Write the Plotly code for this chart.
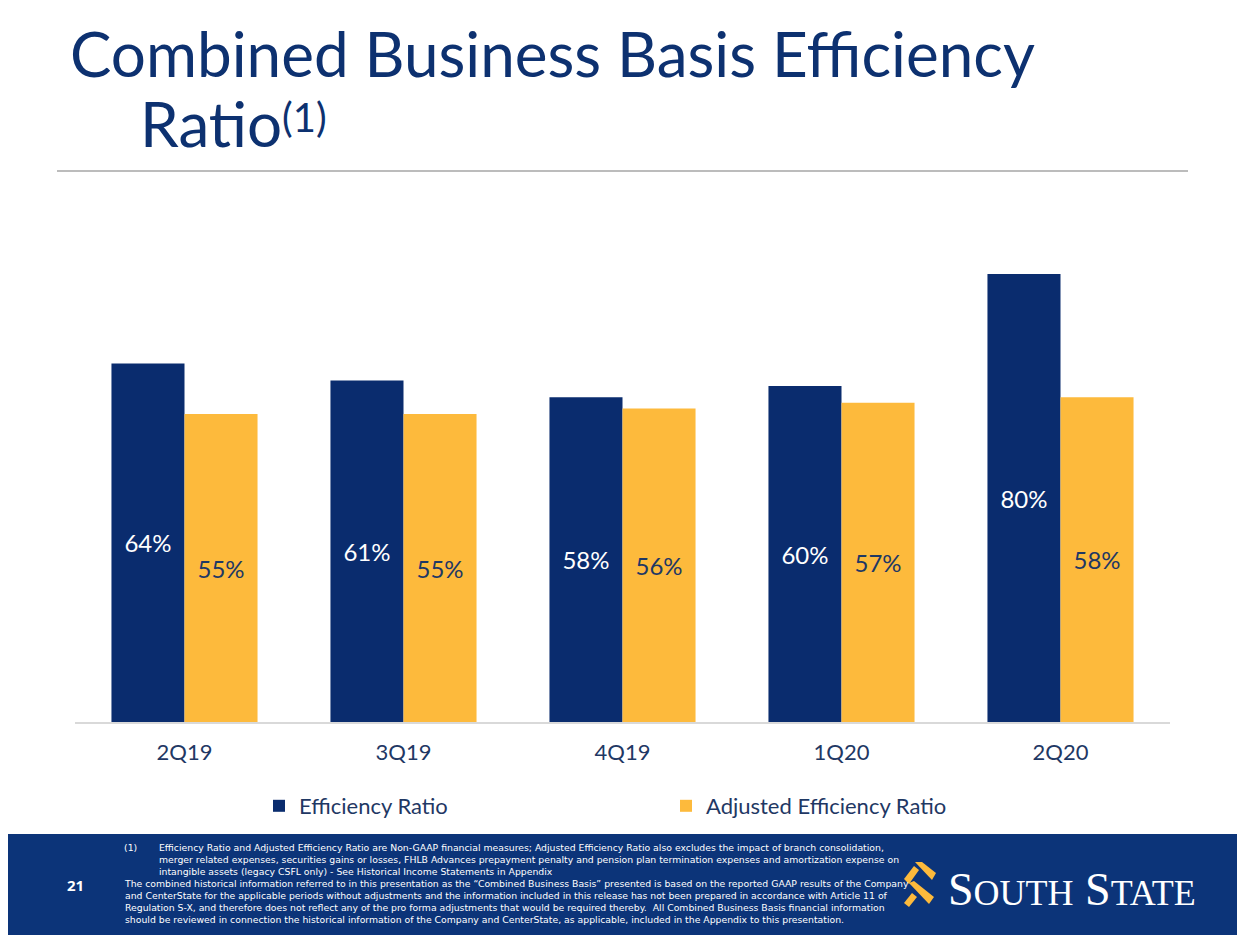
import plotly.graph_objects as go

# ---- data ----
quarters = ["2Q19", "3Q19", "4Q19", "1Q20", "2Q20"]
efficiency_ratio = [64, 61, 58, 60, 80]
adjusted_efficiency_ratio = [55, 55, 56, 57, 58]
series_names = ["Efficiency Ratio", "Adjusted Efficiency Ratio"]

footnote_1 = [
    "Efficiency Ratio and Adjusted Efficiency Ratio are Non-GAAP financial measures; Adjusted Efficiency Ratio also excludes the impact of branch consolidation,",
    "merger related expenses, securities gains or losses, FHLB Advances prepayment penalty and pension plan termination expenses and amortization expense on",
    "intangible assets (legacy CSFL only) - See Historical Income Statements in Appendix",
]
footnote_2 = [
    "The combined historical information referred to in this presentation as the \u201cCombined Business Basis\u201d presented is based on the reported GAAP results of the Company",
    "and CenterState for the applicable periods without adjustments and the information included in this release has not been prepared in accordance with Article 11 of",
    "Regulation S-X, and therefore does not reflect any of the pro forma adjustments that would be required thereby.  All Combined Business Basis financial information",
    "should be reviewed in connection the historical information of the Company and CenterState, as applicable, included in the Appendix to this presentation.",
]

# ---- styling ----
W, H = 1245, 935
OX, OY = 8, 8            # page body margin offset
L, R, T, B = 75, 1170, 246, 722   # plot area in screen pixels
PW, PH = R - L, B - T
NAVY = "#0a2c6e"
YELLOW = "#fdba3c"
TITLE = "#0d3170"
TEXT = "#1f3864"
BAND = "#0c3479"
FONT = "Lato"
NOTE_FONT = "DejaVu Sans"
NOTE_SIZE = 9.3


def xp(x):
    return (x - L) / PW


def yp(y):
    return (B - y) / PH


fig = go.Figure()
fig.add_trace(go.Bar(
    x=quarters, y=efficiency_ratio, name=series_names[0],
    marker=dict(color=NAVY, line=dict(width=0)),
    texttemplate="%{y}%", textposition="inside", insidetextanchor="middle",
    textangle=0, textfont=dict(family=FONT, size=24, color="white"),
    hoverinfo="skip",
))
fig.add_trace(go.Bar(
    x=quarters, y=adjusted_efficiency_ratio, name=series_names[1],
    marker=dict(color=YELLOW, line=dict(width=0)),
    texttemplate="%{y}%", textposition="inside", insidetextanchor="middle",
    textangle=0, textfont=dict(family=FONT, size=24, color=TEXT),
    hoverinfo="skip",
))

shapes = [
    dict(type="line", xref="paper", yref="paper", x0=xp(57), x1=xp(1188), y0=yp(171), y1=yp(171),
         line=dict(color="#a6a6a6", width=1.5)),
    dict(type="rect", xref="paper", yref="paper", x0=xp(0), x1=xp(W + OX), y0=yp(H + OY), y1=yp(834),
         fillcolor=BAND, line=dict(width=0), layer="below"),
]

icon_polys = [
    [(915, 862), (922, 862), (936, 873), (932, 880)],
    [(904, 879), (914, 866), (919, 870), (909, 884)],
    [(909, 883), (914, 881), (934, 897), (929, 904)],
    [(904, 903), (912, 893), (917, 897), (909, 907)],
]
for poly in icon_polys:
    path = "M " + " L ".join(f"{xp(x):.5f},{yp(y):.5f}" for x, y in poly) + " Z"
    shapes.append(dict(type="path", xref="paper", yref="paper", path=path,
                       fillcolor=YELLOW, line=dict(width=0)))

annotations = [
    dict(text="Combined Business Basis Efficiency", x=xp(68), y=yp(53), xanchor="left", yanchor="middle",
         font=dict(family=FONT, size=62, color=TITLE)),
    dict(text="Ratio", x=xp(138), y=yp(123), xanchor="left", yanchor="middle",
         font=dict(family=FONT, size=62, color=TITLE)),
    dict(text="(1)", x=xp(280), y=yp(117), xanchor="left", yanchor="middle",
         font=dict(family=FONT, size=40, color=TITLE)),
    dict(text="(1)", x=xp(122), y=yp(847), xanchor="left", yanchor="middle",
         font=dict(family=NOTE_FONT, size=NOTE_SIZE, color="white")),
    dict(text="<br>".join(footnote_1), x=xp(157), y=yp(840), xanchor="left", yanchor="top", align="left",
         font=dict(family=NOTE_FONT, size=NOTE_SIZE, color="white")),
    dict(text="<br>".join(footnote_2), x=xp(122), y=yp(876), xanchor="left", yanchor="top", align="left",
         font=dict(family=NOTE_FONT, size=NOTE_SIZE, color="white")),
    dict(text="<b>21</b>", x=xp(75), y=yp(885), xanchor="center", yanchor="middle",
         font=dict(family="Noto Sans", size=15, color="white")),
    dict(text="S<span style='font-size:36px'>OUTH</span> S<span style='font-size:36px'>TATE</span>",
         x=xp(946), y=yp(889), xanchor="left", yanchor="middle",
         font=dict(family="Liberation Serif", size=46, color="white")),
]
for a in annotations:
    a.update(xref="paper", yref="paper", showarrow=False)

fig.update_layout(
    width=W, height=H,
    margin=dict(l=L - OX, r=W - R + OX, t=T - OY, b=H - B + OY, pad=0),
    paper_bgcolor="white", plot_bgcolor="white",
    barmode="group", bargap=0.333, bargroupgap=0,
    font=dict(family=FONT, color=TEXT),
    xaxis=dict(showline=True, linecolor="#d9d9d9", linewidth=1.5, ticks="", showgrid=False,
               tickfont=dict(family=FONT, size=22, color=TEXT), ticklabelstandoff=10,
               fixedrange=True),
    yaxis=dict(visible=False, range=[0, 85], showgrid=False, zeroline=False, fixedrange=True),
    legend=dict(orientation="h", x=xp(259), y=yp(806), xanchor="left", yanchor="middle",
                font=dict(family=FONT, size=22, color=TEXT), entrywidth=362, entrywidthmode="pixels",
                itemclick=False, itemdoubleclick=False, bgcolor="rgba(0,0,0,0)"),
    shapes=shapes,
    annotations=annotations,
    uniformtext=dict(minsize=10, mode="show"),
)

fig.write_html("out.html")
